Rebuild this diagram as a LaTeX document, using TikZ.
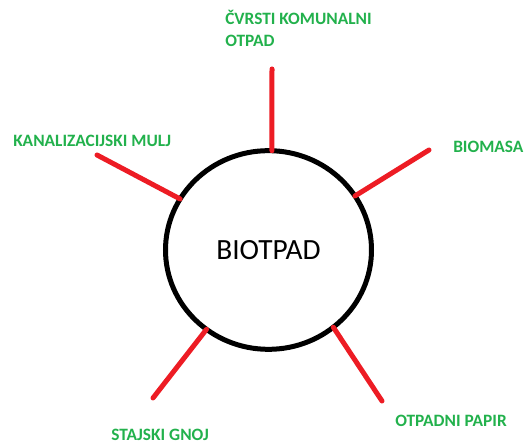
\documentclass[tikz,border=0pt]{standalone}
\usepackage{fontspec}
\setmainfont{Carlito}
\usetikzlibrary{shapes,calc}
\definecolor{paintgreen}{RGB}{34,177,76}
\definecolor{paintred}{RGB}{237,28,36}
\tikzset{waste/.style={text=paintgreen, font=\bfseries\fontsize{13}{16.5}\selectfont, inner sep=0pt, anchor=base west, align=left},
         hub/.style={draw, ellipse, line width=3.75pt, minimum width=154.5pt, minimum height=149pt, inner sep=0pt, outer sep=0pt, font=\fontsize{22}{24}\selectfont},
         line/.style={draw=paintred, line width=3.75pt, line cap=round}}

\begin{document}
\begin{tikzpicture}[x=0.75pt,y=-0.75pt]
\useasboundingbox (0,0) rectangle (526,445);
\node (bio) [hub] at (268.5,250) {BIOTPAD};

\node (kom) [waste] at (225,47) {ČVRSTI KOMUNALNI\\OTPAD};
\node (mulj) [waste] at (13,147) {KANALIZACIJSKI MULJ};
\node (masa) [waste] at (453,153) {BIOMASA};
\node (gnoj) [waste] at (111,441) {STAJSKI GNOJ};
\node (papir) [waste] at (395,427) {OTPADNI PAPIR};

% free ends of the spokes
\coordinate (kome) at (272,69);
\coordinate (mulje) at (97,155);
\coordinate (masae) at (429,150);
\coordinate (gnoje) at (153,398);
\coordinate (papire) at (382,401);

% Draw connections between nodes
\draw [line] (bio.88) -- (kome);
\draw [line] (bio.150) -- (mulje);
\draw [line] (bio.32) -- (masae);
\draw [line] (bio.232) -- (gnoje);
\draw [line] (bio.310) -- (papire);
\end{tikzpicture}
\end{document}
